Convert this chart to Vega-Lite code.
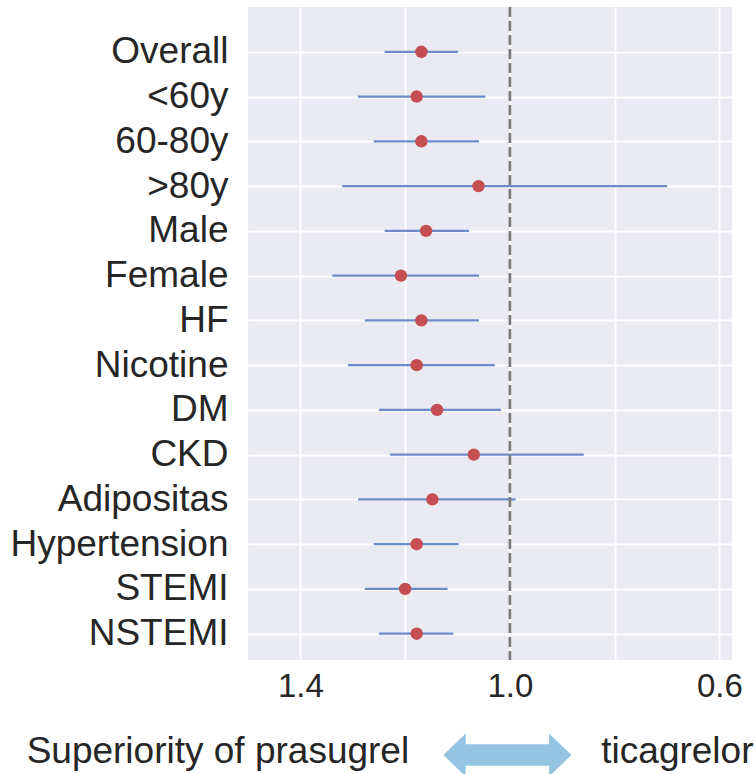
{
  "$schema": "https://vega.github.io/schema/vega-lite/v6.json",
  "padding": {"left": 9, "top": 5, "right": 0, "bottom": 0},
  "datasets": {
    "estimates": [
      {"group": "Overall", "hr": 1.169, "lo": 1.239, "hi": 1.099},
      {"group": "<60y", "hr": 1.178, "lo": 1.290, "hi": 1.047},
      {"group": "60-80y", "hr": 1.169, "lo": 1.260, "hi": 1.059},
      {"group": ">80y", "hr": 1.060, "lo": 1.320, "hi": 0.700},
      {"group": "Male", "hr": 1.160, "lo": 1.239, "hi": 1.078},
      {"group": "Female", "hr": 1.208, "lo": 1.339, "hi": 1.059},
      {"group": "HF", "hr": 1.169, "lo": 1.277, "hi": 1.059},
      {"group": "Nicotine", "hr": 1.178, "lo": 1.309, "hi": 1.029},
      {"group": "DM", "hr": 1.139, "lo": 1.250, "hi": 1.017},
      {"group": "CKD", "hr": 1.069, "lo": 1.229, "hi": 0.859},
      {"group": "Adipositas", "hr": 1.148, "lo": 1.290, "hi": 0.989},
      {"group": "Hypertension", "hr": 1.178, "lo": 1.260, "hi": 1.098},
      {"group": "STEMI", "hr": 1.200, "lo": 1.277, "hi": 1.119},
      {"group": "NSTEMI", "hr": 1.178, "lo": 1.250, "hi": 1.108}
    ],
    "reference": [{"hr": 1.0}],
    "caption": [
      {"part": "left", "label": "Superiority of prasugrel", "fx": 0.333},
      {"part": "arrow", "label": "", "fx": 0.536},
      {"part": "right", "label": "ticagrelor", "fx": 0.730}
    ]
  },
  "spacing": 27,
  "vconcat": [
    {
      "width": 484,
      "height": 653,
      "view": {"fill": "#eaeaf2", "stroke": null},
      "layer": [
        {
          "data": {"name": "estimates"},
          "mark": {"type": "rule", "color": "#6b8cc9", "strokeWidth": 2.2},
          "encoding": {
            "y": {"field": "group", "type": "nominal", "sort": null,
                  "scale": {"type": "point", "padding": 0.795, "align": 0.63},
                  "axis": {"title": null, "grid": true, "labelPadding": 20, "labelFontSize": 37, "labelLimit": 0}},
            "x": {"field": "lo", "type": "quantitative",
                  "scale": {"domain": [0.576, 1.5], "reverse": true, "nice": false, "zero": false},
                  "axis": {"title": null, "values": [1.4, 1.2, 1.0, 0.8, 0.6],
                           "labelExpr": "datum.value == 1.2 || datum.value == 0.8 ? '' : format(datum.value, '.1f')",
                           "labelPadding": 10}},
            "x2": {"field": "hi"}
          }
        },
        {
          "data": {"name": "reference"},
          "mark": {"type": "rule", "color": "#7a7a7a", "strokeWidth": 2.7, "strokeDash": [10, 4]},
          "encoding": {"x": {"field": "hr", "type": "quantitative"}}
        },
        {
          "data": {"name": "estimates"},
          "mark": {"type": "point", "shape": "circle", "filled": true, "color": "#c44e52", "opacity": 1, "size": 155},
          "encoding": {
            "y": {"field": "group", "type": "nominal", "sort": null},
            "x": {"field": "hr", "type": "quantitative"}
          }
        }
      ]
    },
    {
      "width": 484,
      "height": 44,
      "view": {"fill": null, "stroke": null},
      "data": {"name": "caption"},
      "encoding": {
        "x": {"field": "fx", "type": "quantitative", "scale": {"domain": [0, 1], "nice": false, "zero": false}, "axis": null}
      },
      "layer": [
        {
          "transform": [{"filter": "datum.part == 'left'"}],
          "mark": {"type": "text", "align": "right", "baseline": "middle", "fontSize": 37, "color": "#262626"},
          "encoding": {"text": {"field": "label"}}
        },
        {
          "transform": [{"filter": "datum.part == 'right'"}],
          "mark": {"type": "text", "align": "left", "baseline": "middle", "fontSize": 37, "color": "#262626"},
          "encoding": {"text": {"field": "label"}}
        },
        {
          "transform": [{"filter": "datum.part == 'arrow'"}],
          "mark": {"type": "point", "filled": true, "opacity": 1, "color": "#93c4e1", "size": 16384, "yOffset": 3,
                   "shape": "M-1,0L-0.652,-0.3375L-0.652,-0.169L0.652,-0.169L0.652,-0.3375L1,0L0.652,0.3375L0.652,0.169L-0.652,0.169L-0.652,0.3375Z"}
        }
      ]
    }
  ],
  "config": {
    "font": "Liberation Sans",
    "axis": {
      "domain": false, "ticks": false, "gridColor": "#ffffff", "gridWidth": 1.8, "gridOpacity": 1,
      "labelFontSize": 33, "labelColor": "#262626", "labelFont": "Liberation Sans"
    }
  }
}
